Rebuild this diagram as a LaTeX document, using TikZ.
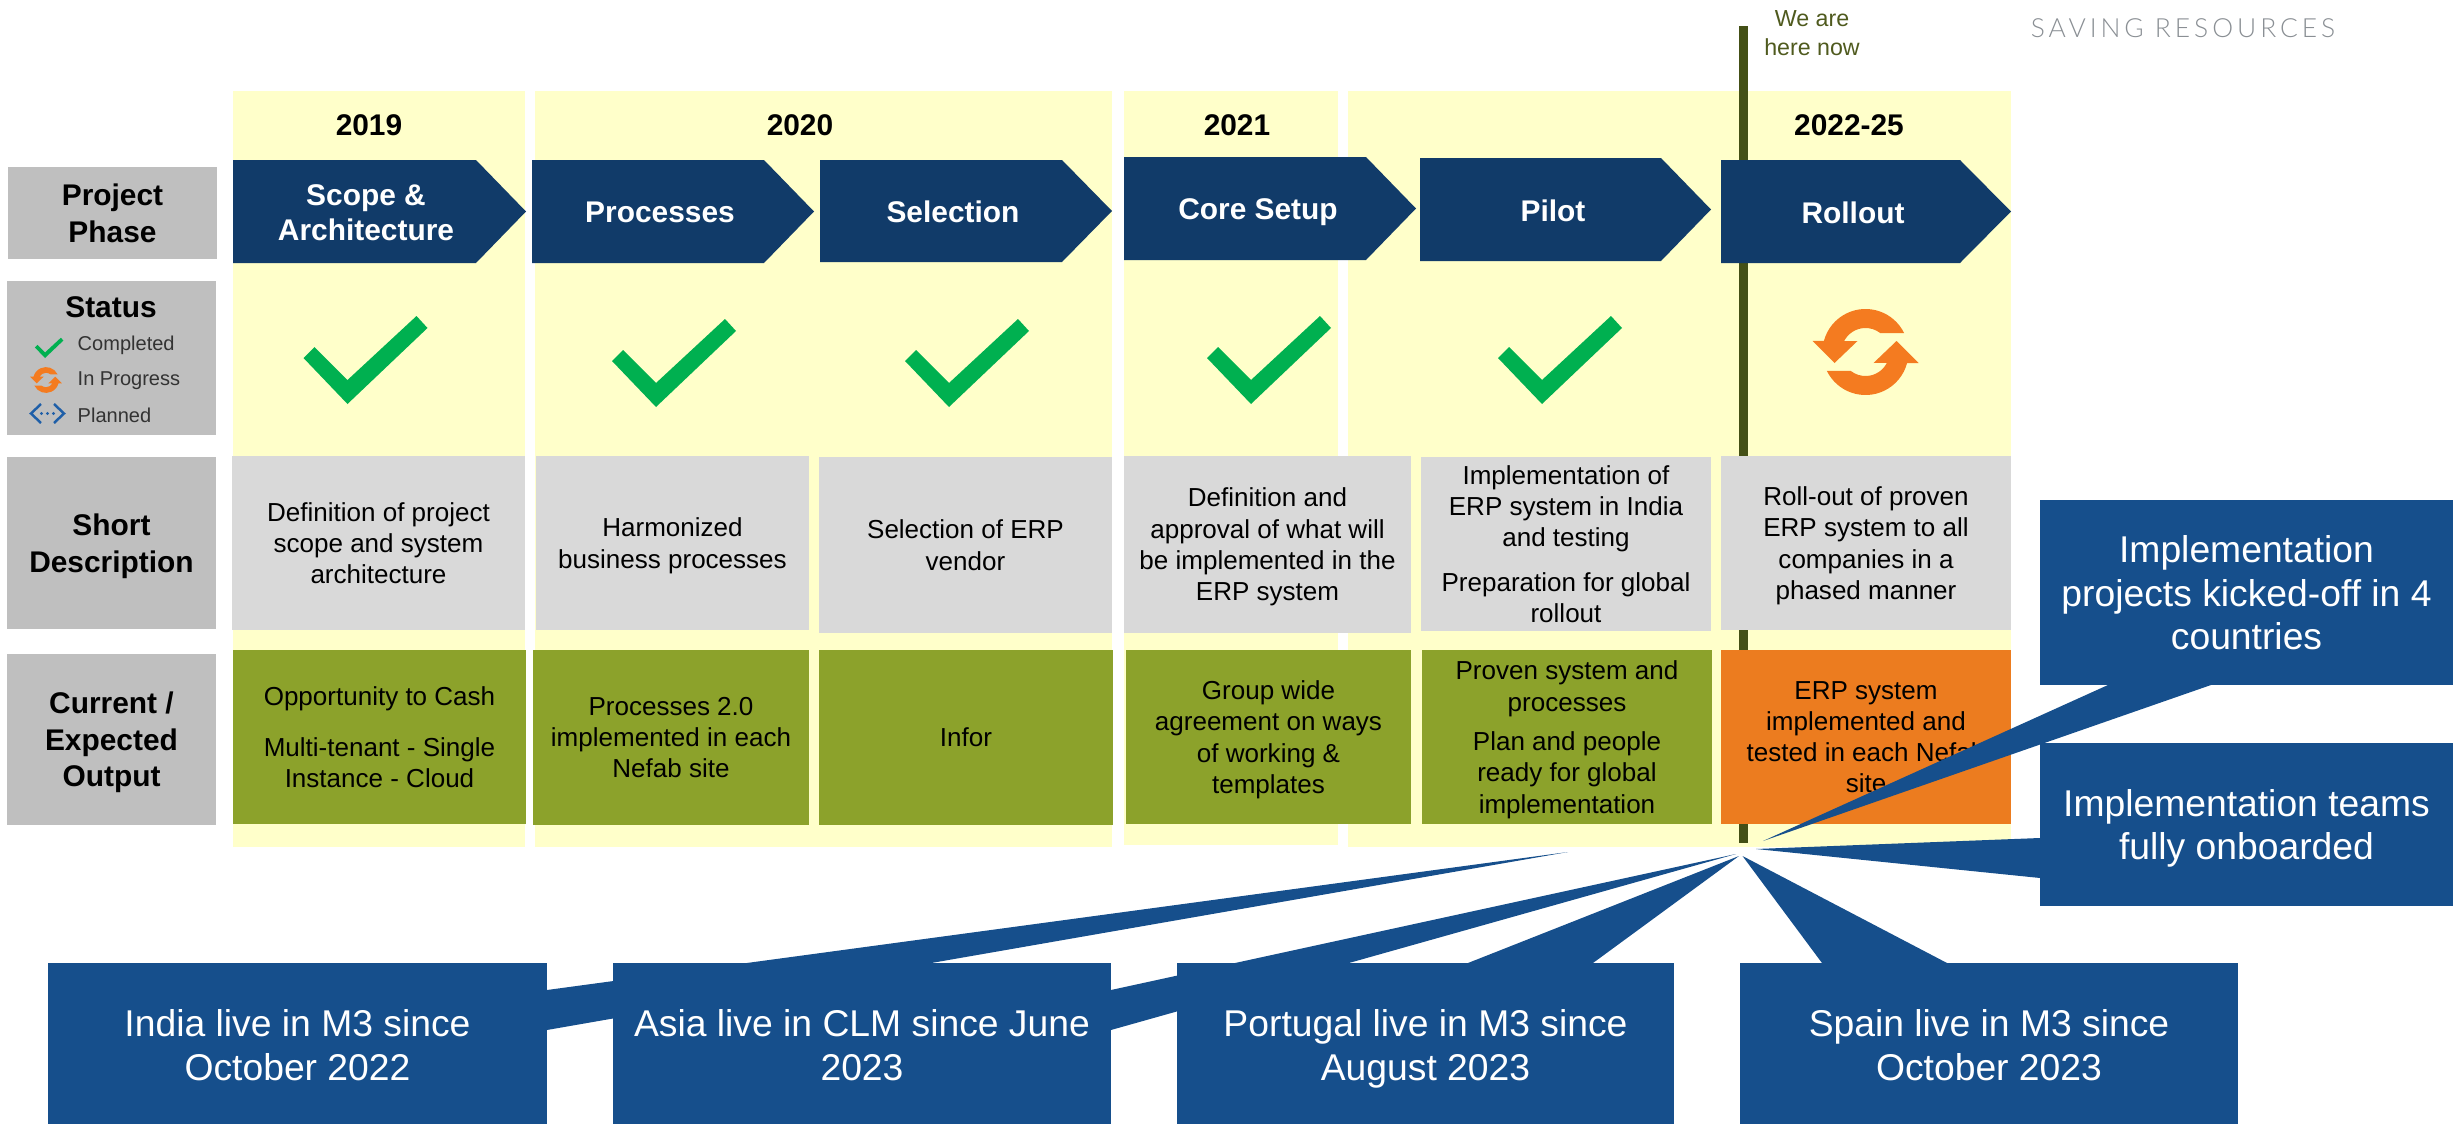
\documentclass[tikz,border=0pt]{standalone}
\usepackage{fontspec}
\setmainfont{Liberation Sans}
\newfontfamily\brandfont[LetterSpace=15]{Lato Light}
\definecolor{yel}{HTML}{FFFFCA}
\definecolor{lab}{HTML}{BFBFBF}
\definecolor{desc}{HTML}{D9D9D9}
\definecolor{oliv}{HTML}{8CA22B}
\definecolor{oran}{HTML}{EC7C1F}
\definecolor{navy}{HTML}{113B69}
\definecolor{call}{HTML}{164F8C}
\definecolor{chk}{HTML}{00B050}
\definecolor{syn}{HTML}{F47B20}
\definecolor{now}{HTML}{445016}
\definecolor{nowtext}{HTML}{4F5A1E}
\definecolor{plan}{HTML}{1F5FA8}
\definecolor{brand}{HTML}{8A8F94}
\tikzset{
  x=0.01cm,y=-0.01cm,
  cellbase/.style={inner sep=0pt,align=center,text depth=0pt},
  labelbox/.style={cellbase,fill=lab,font=\fontsize{8.5}{10.4}\selectfont\bfseries,text=black},
  descbox/.style={cellbase,fill=desc,font=\fontsize{7.4}{8.9}\selectfont,text=black},
  outbox/.style={cellbase,fill=oliv,font=\fontsize{7.4}{8.9}\selectfont,text=black},
  orangebox/.style={cellbase,fill=oran,font=\fontsize{7.4}{8.9}\selectfont,text=black},
  yellowband/.style={cellbase,fill=yel},
  callbox/.style={cellbase,fill=call,text=white,font=\fontsize{10.6}{12.5}\selectfont},
  tailfill/.style={fill=call},
  phasefill/.style={fill=navy},
  phasetext/.style={inner sep=0pt,align=center,text depth=0pt,text=white,font=\fontsize{8.5}{10.2}\selectfont\bfseries},
  yeartext/.style={inner sep=0pt,font=\fontsize{8.5}{10.2}\selectfont\bfseries},
  legendtext/.style={inner sep=0pt,anchor=west,text=black!80,font=\fontsize{5.7}{7}\selectfont},
  nowline/.style={fill=now},
  checkfill/.style={fill=chk},
  syncfill/.style={fill=syn},
  planline/.style={draw=plan,line width=0.7pt},
  plandot/.style={fill=plan},
}
\newcommand\cellnode[7]{%
  \pgfmathsetmacro\cellw{(#5-#3)*0.01}%
  \pgfmathsetmacro\cellh{(#6-#4)*0.01}%
  \pgfmathsetmacro\cellx{(#3+#5)/2}%
  \pgfmathsetmacro\celly{(#4+#6)/2}%
  \node[#1,minimum width=\cellw cm,minimum height=\cellh cm] (#2) at (\cellx,\celly) {#7};}
\newcommand\phasenode[8]{%
  \pgfmathsetmacro\phmid{(#5+#6)/2}%
  \pgfmathsetmacro\phtext{\phmid+1}%
  \fill[phasefill] (#2,#5) -- (#4,#5) -- (#3,\phmid) -- (#4,#6) -- (#2,#6) -- cycle;
  \node[phasetext] (#1) at (#7,\phtext) {#8};}
\newcommand\checkicon[3]{%
  \begin{scope}[shift={(#1,#2)},scale=#3]
    \fill[checkfill] (0,0) -- (-44,-46) -- (-33,-57) -- (0,-24) -- (69,-88) -- (80,-76) -- cycle;
  \end{scope}}
\newcommand\syncband{%
  (26:43) arc[start angle=26,end angle=165,radius=0.43cm] -- (-53,11) -- (-31,-11) -- (-8,11) -- (153:24) arc[start angle=153,end angle=52,radius=0.24cm] -- cycle}
\newcommand\syncicon[3]{%
  \begin{scope}[shift={(#1,#2)},scale=#3,y=0.01cm]
    \fill[syncfill] \syncband;
    \begin{scope}[rotate=180]
      \fill[syncfill] \syncband;
    \end{scope}
  \end{scope}}
\begin{document}
\begin{tikzpicture}
\useasboundingbox (0,0) rectangle (2453,1124);
% yellow background columns
\cellnode{yellowband}{band1}{233}{91}{525}{847}{}
\cellnode{yellowband}{band2}{535}{91}{1112}{847}{}
\cellnode{yellowband}{band3}{1124}{91}{1338}{845}{}
\cellnode{yellowband}{band4}{1348}{91}{2011}{847}{}
% now line
\path[nowline] (1739,26) rectangle (1748,843);
\node[inner sep=0pt,align=center,text=nowtext,font=\fontsize{6.6}{8.3}\selectfont] (now) at (1812,33) {We are\\here now};
\node[inner sep=0pt,text=brand,font=\fontsize{7.5}{9}\selectfont\brandfont] (brandname) at (2183,28) {SAVING RESOURCES};
% years
\node[yeartext] (y19) at (369,125) {2019};
\node[yeartext] (y20) at (800,125) {2020};
\node[yeartext] (y21) at (1237,125) {2021};
\node[yeartext] (y22) at (1849,125) {2022-25};
% row labels
\cellnode{labelbox}{lphase}{8}{167}{217}{259}{Project\\Phase}
\cellnode{labelbox}{lstatus}{7}{281}{216}{435}{}
\node[inner sep=0pt,font=\fontsize{8.5}{10.4}\selectfont\bfseries] (tstatus) at (111,307) {Status};
\node[legendtext] (lg1) at (77,345) {Completed};
\node[legendtext] (lg2) at (77,381) {In Progress};
\node[legendtext] (lg3) at (77,415) {Planned};
\cellnode{labelbox}{lshort}{7}{457}{216}{629}{Short\\Description}
\cellnode{labelbox}{lcurr}{7}{654}{216}{825}{Current /\\Expected\\Output}
% legend icons
\checkicon{45}{358}{0.23}
\syncicon{46}{380}{0.3}
\draw[planline] (41,404) -- (31,413.5) -- (41,423);
\draw[planline] (54,404) -- (64,413.5) -- (54,423);
\fill[plandot] (41.5,413.5) circle[radius=1.6] (47.5,413.5) circle[radius=1.6] (53.5,413.5) circle[radius=1.6];
% phases
\phasenode{p1}{233}{526}{476}{160}{263}{366}{Scope \&\\Architecture}
\phasenode{p2}{532}{814}{764}{160}{263}{660}{Processes}
\phasenode{p3}{820}{1112}{1062}{160}{262}{953}{Selection}
\phasenode{p4}{1124}{1416}{1366}{157}{260}{1258}{Core Setup}
\phasenode{p5}{1420}{1711}{1661}{158}{261}{1553}{Pilot}
\phasenode{p6}{1721}{2011}{1960}{160}{263}{1853}{Rollout}
% status
\checkicon{347.5}{404}{1}
\checkicon{656}{407}{1}
\checkicon{949}{407}{1}
\checkicon{1251}{404}{1}
\checkicon{1542}{404}{1}
\syncicon{1865.5}{352}{1}
% description
\cellnode{descbox}{d1}{232}{456}{525}{630}{Definition of project\\scope and system\\architecture}
\cellnode{descbox}{d2}{536}{456}{809}{630}{Harmonized\\business processes}
\cellnode{descbox}{d3}{819}{457}{1112}{633}{Selection of ERP\\vendor}
\cellnode{descbox}{d4}{1124}{456}{1411}{633}{Definition and\\approval of what will\\be implemented in the\\ERP system}
\cellnode{descbox}{d5}{1421}{457}{1711}{631}{Implementation of\\ERP system in India\\and testing\\[3.7pt]Preparation for global\\rollout}
\cellnode{descbox}{d6}{1721}{456}{2011}{630}{Roll-out of proven\\ERP system to all\\companies in a\\phased manner}
% output
\cellnode{outbox}{o1}{233}{650}{526}{824}{Opportunity to Cash\\[5.7pt]Multi-tenant - Single\\Instance - Cloud}
\cellnode{outbox}{o2}{533}{650}{809}{825}{Processes 2.0\\implemented in each\\Nefab site}
\cellnode{outbox}{o3}{819}{650}{1113}{825}{Infor}
\cellnode{outbox}{o4}{1126}{650}{1411}{824}{Group wide\\agreement on ways\\of working \&\\templates}
\cellnode{outbox}{o5}{1422}{650}{1712}{824}{Proven system and\\processes\\[2.3pt]Plan and people\\ready for global\\implementation}
\cellnode{orangebox}{o6}{1721}{650}{2011}{824}{ERP system\\implemented and\\tested in each Nefab\\site}
% callouts
\coordinate (tipA) at (1763,841);
\coordinate (tipB) at (1756,849);
\coordinate (tipC) at (1742.5,856);
\coordinate (tipD) at (1739,856);
\coordinate (tipE) at (1736,854);
\coordinate (tipF) at (1568,852);
\coordinate (a1) at (2108,685);
\coordinate (a2) at (2211,685);
\coordinate (b1) at (2040,838);
\coordinate (b2) at (2040,878);
\coordinate (c1) at (1822,963);
\coordinate (c2) at (1947,963);
\coordinate (d1b) at (1468,963);
\coordinate (d2b) at (1593,963);
\coordinate (e1) at (1111,990);
\coordinate (e2) at (1111,1030);
\coordinate (f1) at (547,990);
\coordinate (f2) at (547,1030);
\fill[tailfill] (f1) -- (tipF) -- (f2) -- cycle;
\cellnode{callbox}{cIndia}{48}{963}{547}{1127}{India live in M3 since\\October 2022}
\fill[tailfill] (e1) -- (tipE) -- (e2) -- cycle;
\cellnode{callbox}{cAsia}{613}{963}{1111}{1127}{Asia live in CLM since June\\2023}
\fill[tailfill] (d1b) -- (tipD) -- (d2b) -- cycle;
\cellnode{callbox}{cPort}{1177}{963}{1674}{1127}{Portugal live in M3 since\\August 2023}
\fill[tailfill] (c1) -- (tipC) -- (c2) -- cycle;
\cellnode{callbox}{cSpain}{1740}{963}{2238}{1127}{Spain live in M3 since\\October 2023}
\fill[tailfill] (a1) -- (tipA) -- (a2) -- cycle;
\cellnode{callbox}{cProj}{2040}{500}{2453}{685}{Implementation\\projects kicked-off in 4\\countries}
\fill[tailfill] (b1) -- (tipB) -- (b2) -- cycle;
\cellnode{callbox}{cTeam}{2040}{743}{2453}{906}{Implementation teams\\fully onboarded}
\end{tikzpicture}
\end{document}
